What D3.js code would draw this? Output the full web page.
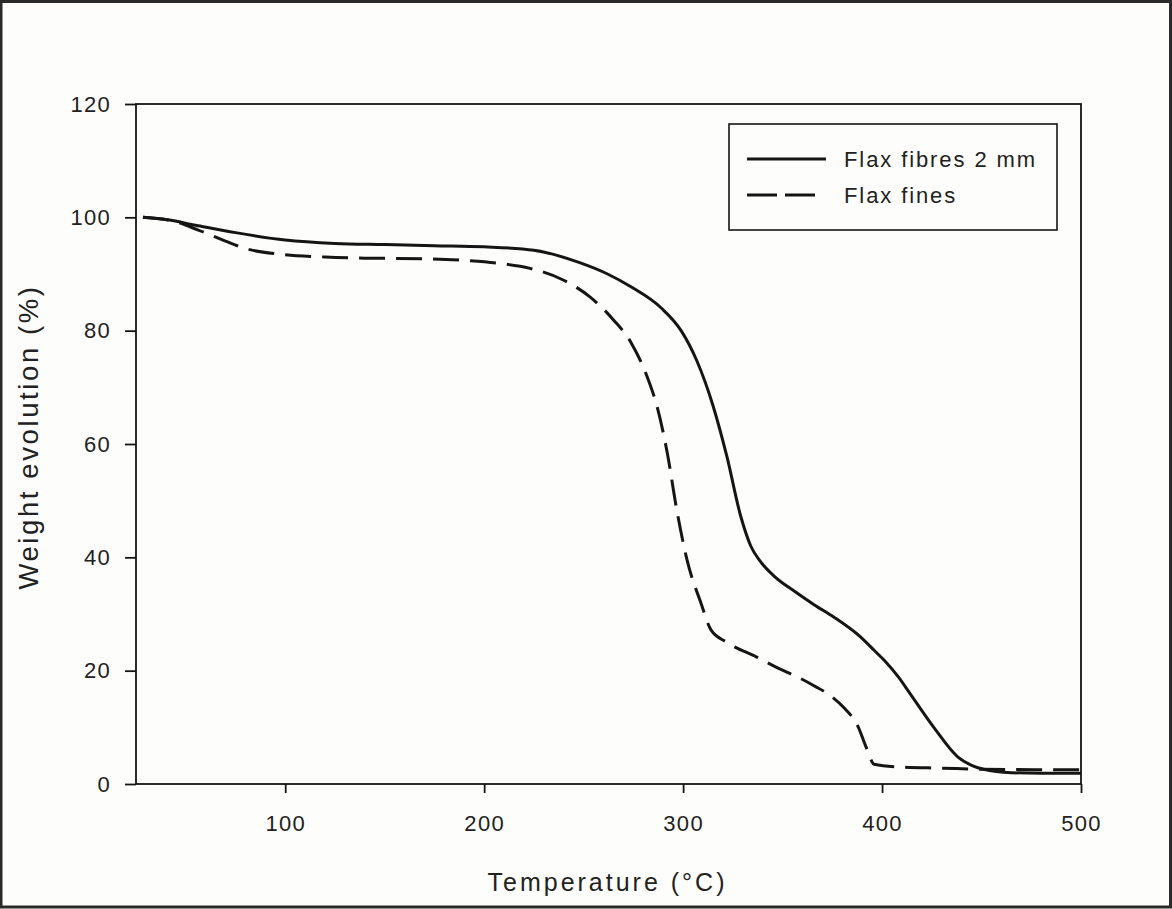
<!DOCTYPE html>
<html><head><meta charset="utf-8">
<script src="https://cdn.jsdelivr.net/npm/d3@7"></script>
<style>html,body{margin:0;padding:0;background:#fdfdfb;}svg{display:block;}</style>
</head><body>
<script>
const fibresT = [28.5,40,55,75,100,125,150,175,200,225,248,262,274,289,299,307,315,322,329,334,339,346,356,366,376,389,396,402,408,414,426,438,445,451,465,480,500];
const fibresW = [100,99.6,98.6,97.3,96.0,95.4,95.2,95.0,94.8,94.2,92.0,90.0,87.7,84.0,80.0,74.6,66.8,57.8,47.2,42.0,39.2,36.6,34.0,31.6,29.4,26.0,23.6,21.5,19.0,16.0,10.0,4.8,3.3,2.6,2.0,1.9,1.9];
const finesT = [28.5,45,56,70,81,97,120,140,170,190,207,223,240,253,265,274,282,287,292,297,302,309,314,322,337,348,358,366,374,381,388,392,396,409,430,451,500];
const finesW = [100,99.2,97.8,95.8,94.4,93.5,93.0,92.8,92.7,92.4,91.9,91.0,88.9,86.0,81.9,77.8,71.8,66.5,58.5,48.0,39.5,31.9,27.2,25.0,22.4,20.4,18.8,17.3,15.6,13.4,10.1,6.5,3.5,3.0,2.8,2.6,2.5];
const xTicks = [100,200,300,400,500];
const yTicks = [0,20,40,60,80,100,120];
const seriesNames = ["Flax fibres 2 mm","Flax fines"];
const xTitle = "Temperature (°C)";
const yTitle = "Weight evolution (%)";

const W = 1172, H = 909;
const m = {left:136, right:1081, top:104, bottom:784};
const font = "Arial, 'Liberation Sans', sans-serif";
const ink = "#151515";

const svg = d3.select("body").append("svg").attr("width",W).attr("height",H);
svg.append("rect").attr("x",0).attr("y",0).attr("width",W).attr("height",H).attr("fill","#fdfdfb");
svg.append("rect").attr("x",1).attr("y",1.5).attr("width",W-2.5).attr("height",H-3.5)
  .attr("fill","none").attr("stroke","#2a2a2a").attr("stroke-width",3);

const x = d3.scaleLinear().domain([25,500]).range([m.left,m.right]);
const y = d3.scaleLinear().domain([0,120]).range([m.bottom,m.top]);

svg.append("rect").attr("x",m.left).attr("y",m.top).attr("width",m.right-m.left).attr("height",m.bottom-m.top)
  .attr("fill","none").attr("stroke",ink).attr("stroke-width",1.8);

const xAxis = svg.append("g").attr("transform",`translate(0,${m.bottom})`)
  .call(d3.axisBottom(x).tickValues(xTicks).tickSize(9).tickPadding(22).tickFormat(d3.format("d")));
const yAxis = svg.append("g").attr("transform",`translate(${m.left},0)`)
  .call(d3.axisLeft(y).tickValues(yTicks).tickSize(11).tickPadding(14).tickFormat(d3.format("d")));
[xAxis,yAxis].forEach(g=>{
  g.select(".domain").remove();
  g.selectAll(".tick line").attr("stroke",ink).attr("stroke-width",1.8);
  g.selectAll(".tick text").attr("fill","#222").style("font-family",font).style("font-size","22px").style("letter-spacing","1.3px");
});

const line = d3.line().x(d=>x(d[0])).y(d=>y(d[1])).curve(d3.curveMonotoneX);
const fibres = fibresT.map((t,i)=>[t,fibresW[i]]);
const fines = finesT.map((t,i)=>[t,finesW[i]]);
svg.append("path").datum(fibres).attr("d",line).attr("fill","none").attr("stroke",ink).attr("stroke-width",3);
svg.append("path").datum(fines).attr("d",line).attr("fill","none").attr("stroke",ink).attr("stroke-width",3).attr("stroke-dasharray","26,11");

const lg = svg.append("g");
lg.append("rect").attr("x",729).attr("y",124).attr("width",328).attr("height",106).attr("fill","#fdfdfb").attr("stroke",ink).attr("stroke-width",1.6);
lg.append("line").attr("x1",747).attr("x2",826).attr("y1",159).attr("y2",159).attr("stroke",ink).attr("stroke-width",3);
lg.append("line").attr("x1",747).attr("x2",815).attr("y1",195).attr("y2",195).attr("stroke",ink).attr("stroke-width",3).attr("stroke-dasharray","30,8");
lg.selectAll("text.lt").data(seriesNames).join("text").attr("class","lt")
  .attr("x",844).attr("y",(d,i)=>167+i*36).text(d=>d)
  .attr("fill","#222").style("font-family",font).style("font-size","22px").style("letter-spacing","1.9px");

svg.append("text").attr("x",(m.left+m.right)/2-1).attr("y",891).attr("text-anchor","middle").text(xTitle)
  .attr("fill","#222").style("font-family",font).style("font-size","25px").style("letter-spacing","3px");
svg.append("text").attr("transform",`translate(38,437) rotate(-90)`).attr("text-anchor","middle").text(yTitle)
  .attr("fill","#222").style("font-family",font).style("font-size","27.5px").style("letter-spacing","2.6px");
</script>
</body></html>
